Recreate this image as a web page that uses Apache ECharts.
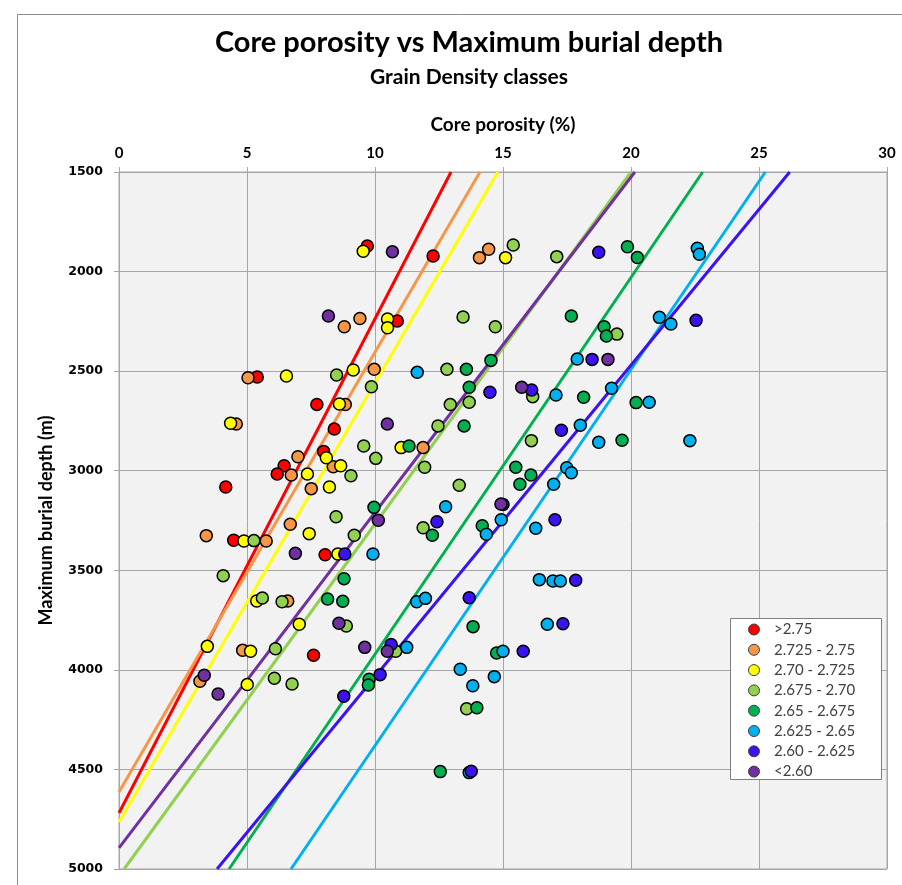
<!DOCTYPE html>
<html><head><meta charset="utf-8">
<script src="https://cdn.jsdelivr.net/npm/echarts@6/dist/echarts.min.js"></script>
<style>html,body{margin:0;padding:0;background:#fff}#c{width:902px;height:885px}</style>
</head><body><div id="c"></div>
<script>
// ---- data ----
const classNames = ['>2.75', '2.725 - 2.75', '2.70 - 2.725', '2.675 - 2.70', '2.65 - 2.675', '2.625 - 2.65', '2.60 - 2.625', '<2.60'];
const xTicks = [0, 5, 10, 15, 20, 25, 30];
const yTicks = [1500, 2000, 2500, 3000, 3500, 4000, 4500, 5000];

const ptsGt275 = [[9.70,1872],[12.27,1922],[10.87,2248],[5.40,2529],[7.73,2667],[8.41,2791],[7.99,2903],[6.45,2975],[6.18,3017],[4.17,3082],[4.48,3349],[8.05,3422],[7.60,3927]];
const pts2725 = [[14.08,1930],[14.44,1888],[9.41,2236],[8.80,2277],[5.04,2533],[9.97,2491],[8.84,2668],[4.58,2765],[6.99,2930],[6.73,3022],[8.37,2980],[11.88,2884],[7.51,3090],[6.69,3269],[3.41,3326],[5.75,3353],[6.59,3654],[4.83,3902],[3.16,4057]];
const pts2700 = [[9.54,1898],[15.10,1930],[10.49,2238],[10.49,2282],[6.54,2524],[9.15,2494],[8.61,2665],[4.36,2762],[8.10,2935],[7.36,3017],[8.66,2975],[11.02,2884],[8.22,3082],[7.43,3316],[4.88,3353],[8.55,3418],[5.38,3654],[7.04,3771],[3.45,3882],[5.14,3907],[5.01,4074]];
const pts2675 = [[15.40,1867],[17.10,1925],[13.44,2228],[14.70,2277],[19.45,2314],[8.50,2519],[9.86,2578],[12.81,2491],[16.16,2628],[12.94,2668],[13.68,2656],[12.46,2775],[9.56,2876],[10.03,2938],[16.11,2849],[9.06,3025],[11.94,2983],[13.29,3073],[8.48,3231],[9.19,3324],[11.88,3286],[5.27,3351],[4.07,3527],[5.60,3639],[6.37,3658],[8.88,3780],[6.11,3894],[10.81,3907],[6.07,4042],[6.76,4071],[13.58,4195]];
const pts2650 = [[19.86,1875],[20.25,1929],[17.67,2223],[18.95,2277],[19.04,2324],[13.57,2491],[14.53,2446],[13.68,2581],[18.15,2631],[20.20,2658],[13.48,2775],[19.65,2847],[11.33,2876],[15.50,2983],[16.09,3022],[15.66,3068],[9.96,3184],[14.19,3276],[12.24,3324],[8.79,3542],[8.15,3644],[8.74,3656],[13.83,3783],[14.75,3915],[9.77,4047],[9.74,4076],[13.98,4190],[12.55,4511]];
const pts2625 = [[22.59,1883],[22.67,1913],[21.11,2230],[21.56,2263],[17.90,2439],[11.65,2506],[19.24,2586],[17.07,2620],[20.71,2656],[18.02,2772],[18.74,2857],[22.30,2849],[17.49,2985],[17.67,3010],[16.98,3068],[12.76,3181],[14.93,3246],[14.35,3319],[16.28,3289],[9.92,3418],[16.42,3547],[16.95,3554],[17.24,3554],[11.63,3658],[11.97,3641],[16.73,3771],[11.24,3887],[15.00,3907],[13.33,3997],[14.66,4034],[13.82,4080],[13.68,4516]];
const pts2600 = [[18.74,1903],[22.54,2245],[18.48,2441],[14.49,2606],[16.12,2595],[17.28,2797],[15.00,3170],[12.42,3256],[17.03,3246],[8.82,3418],[17.84,3550],[13.68,3638],[17.34,3768],[10.63,3873],[15.79,3907],[10.20,4024],[8.78,4133],[13.76,4509]];
const ptsLt260 = [[8.18,2223],[10.68,1900],[19.10,2441],[15.73,2581],[10.48,2765],[10.13,3249],[14.92,3167],[6.89,3415],[8.59,3766],[9.60,3887],[10.48,3907],[3.33,4027],[3.87,4121]];

// trend lines: start and end points per class
const trendStart = [[12.97,1500],[14.10,1500],[14.80,1500],[20.00,1500],[22.80,1500],[25.25,1500],[26.20,1500],[20.15,1500]];
const trendEnd   = [[0,4719],[0,4613],[0,4764],[0.20,5000],[4.30,5000],[6.72,5000],[3.83,5000],[0,4894]];

// ---- styles ----
const classColors = ['#FF0000', '#F79646', '#FFFF00', '#92D050', '#00B050', '#00B0F0', '#3D12F2', '#7030A0'];
const allPts = [ptsGt275, pts2725, pts2700, pts2675, pts2650, pts2625, pts2600, ptsLt260];

const series = [];
classNames.forEach((n, i) => {
  series.push({
    name: 'trend ' + n, type: 'line', data: [trendStart[i], trendEnd[i]],
    showSymbol: false, silent: true, z: 1, clip: true,
    lineStyle: { color: classColors[i], width: 3 }
  });
});
classNames.forEach((n, i) => {
  series.push({
    name: n, type: 'scatter', data: allPts[i], symbol: 'circle', symbolSize: 12, z: 3,
    itemStyle: { color: classColors[i], borderColor: '#000', borderWidth: 1.5, opacity: 1 }
  });
});

const chart = echarts.init(document.getElementById('c'), null, { renderer: 'canvas' });
chart.setOption({
  animation: false,
  backgroundColor: '#fff',
  title: [
    { text: 'Core porosity vs Maximum burial depth', left: 464, top: 23, textAlign: 'center',
      textStyle: { fontFamily: 'Lato', fontWeight: 'bold', fontSize: 29, color: '#000' } },
    { text: 'Grain Density classes', left: 464, top: 62, textAlign: 'center',
      textStyle: { fontFamily: 'Lato', fontWeight: 'bold', fontSize: 21, color: '#000' } }
  ],
  graphic: [
    { type: 'rect', left: 15, top: 12, shape: { width: 1000, height: 1000 }, z: -10,
      style: { fill: 'none', stroke: '#8c8c8c', lineWidth: 1 }, silent: true },
    { type: 'rect', left: 730, top: 618, shape: { width: 151, height: 161 }, z: 20,
      style: { fill: '#fff', stroke: '#7f7f7f', lineWidth: 1 }, silent: true }
  ],
  legend: {
    data: classNames, orient: 'vertical', left: 748, top: 622, padding: 0, z: 30,
    icon: 'circle', itemWidth: 30, itemHeight: 11, itemGap: 5.3,
    itemStyle: { borderColor: '#404040', borderWidth: 1 },
    textStyle: { fontFamily: 'Lato', fontSize: 15, color: '#404040' },
    selectedMode: false
  },
  grid: { left: 119, right: 15, top: 172, bottom: 16, show: true, backgroundColor: '#f2f2f2',
          borderColor: '#a6a6a6', borderWidth: 1, containLabel: false },
  xAxis: {
    type: 'value', position: 'top', min: xTicks[0], max: xTicks[xTicks.length - 1], interval: 5,
    name: 'Core porosity (%)', nameLocation: 'middle', nameGap: 38,
    nameTextStyle: { fontFamily: 'Lato', fontWeight: 'bold', fontSize: 19, color: '#000' },
    axisLine: { show: true, lineStyle: { color: '#a6a6a6', width: 1 } },
    axisTick: { show: true, inside: false, length: 5, lineStyle: { color: '#a6a6a6' } },
    axisLabel: { margin: 11, fontFamily: 'Lato', fontWeight: 'bold', fontSize: 15, color: '#000' },
    splitLine: { show: true, lineStyle: { color: '#a6a6a6', width: 1 } }
  },
  yAxis: {
    type: 'value', inverse: true, min: yTicks[0], max: yTicks[yTicks.length - 1], interval: 500,
    name: 'Maximum burial depth (m)', nameLocation: 'middle', nameGap: 64, nameRotate: 90,
    nameTextStyle: { fontFamily: 'Lato', fontWeight: 'bold', fontSize: 18, color: '#000' },
    axisLine: { show: true, lineStyle: { color: '#a6a6a6', width: 1 } },
    axisTick: { show: true, inside: false, length: 5, lineStyle: { color: '#a6a6a6' } },
    axisLabel: { margin: 16, fontFamily: 'DejaVu Sans', fontWeight: 'bold', fontSize: 12.5, color: '#000',
                 formatter: v => String(v) },
    splitLine: { show: true, lineStyle: { color: '#a6a6a6', width: 1 } }
  },
  series: series
});
</script>
</body></html>
